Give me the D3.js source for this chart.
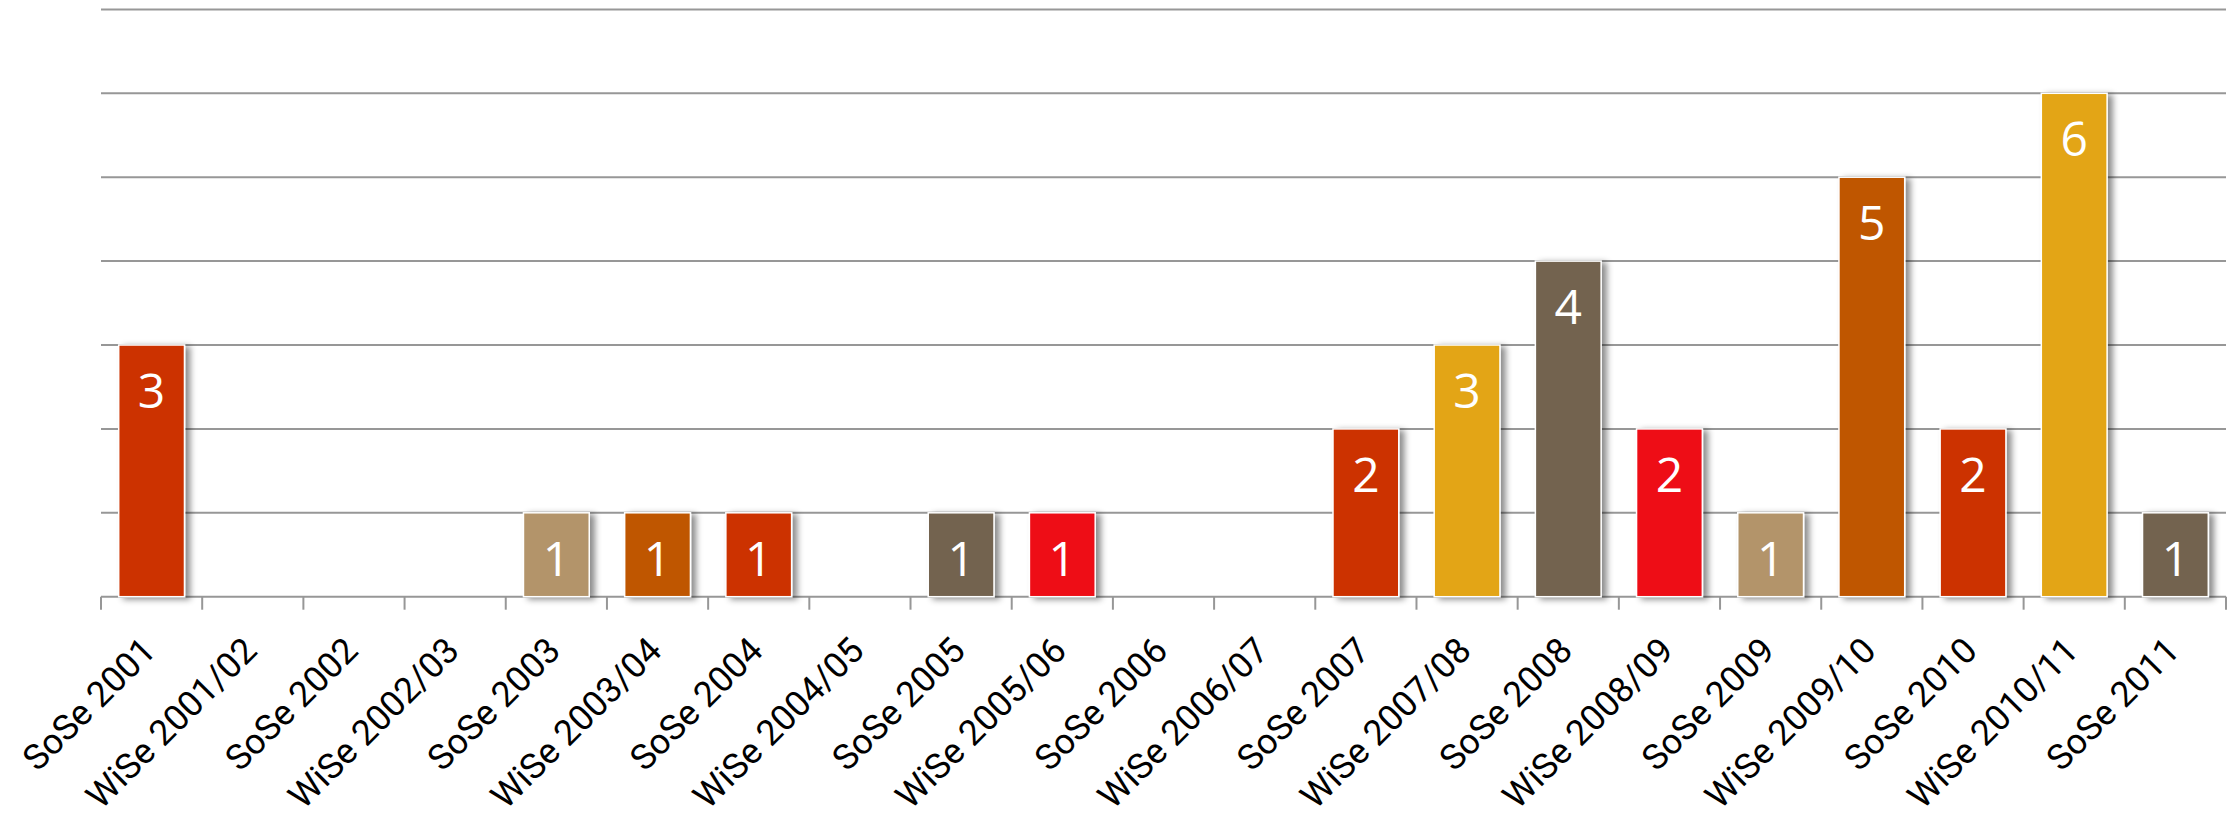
<!DOCTYPE html>
<html>
<head>
<meta charset="utf-8">
<script src="https://cdn.jsdelivr.net/npm/d3@7"></script>
<style>
  html, body { margin: 0; padding: 0; background: #ffffff; }
  svg { display: block; }
</style>
</head>
<body>
<svg id="chart" width="2237" height="819"></svg>
<script>
// Semesters and counts per semester
const semesters = [
  "SoSe 2001", "WiSe 2001/02", "SoSe 2002", "WiSe 2002/03", "SoSe 2003",
  "WiSe 2003/04", "SoSe 2004", "WiSe 2004/05", "SoSe 2005", "WiSe 2005/06",
  "SoSe 2006", "WiSe 2006/07", "SoSe 2007", "WiSe 2007/08", "SoSe 2008",
  "WiSe 2008/09", "SoSe 2009", "WiSe 2009/10", "SoSe 2010", "WiSe 2010/11",
  "SoSe 2011"
];
const counts = [3, 0, 0, 0, 1, 1, 1, 0, 1, 1, 0, 0, 2, 3, 4, 2, 1, 5, 2, 6, 1];
const yTicks = [0, 1, 2, 3, 4, 5, 6, 7];
// Colour cycle applied by category position
const palette = ["#CC3300", "#E3A512", "#736450", "#EE0A14", "#B3946A", "#BF5700"];

const svg = d3.select("#chart");
const plotLeft = 101, plotRight = 2226, plotTop = 9.4, plotBottom = 596.7;

const x = d3.scaleBand()
  .domain(semesters)
  .range([plotLeft, plotRight])
  .paddingInner(0.35)
  .paddingOuter(0.175);

const y = d3.scaleLinear().domain([0, 7]).range([plotBottom, plotTop]);

// Drop shadow for bars
const defs = svg.append("defs");
const f = defs.append("filter").attr("id", "shadow")
  .attr("x", "-20%").attr("y", "-20%").attr("width", "150%").attr("height", "140%");
f.append("feDropShadow")
  .attr("dx", 5).attr("dy", 2).attr("stdDeviation", 3)
  .attr("flood-color", "#000").attr("flood-opacity", 0.45);

// Horizontal gridlines
svg.append("g").selectAll("line")
  .data(yTicks)
  .join("line")
  .attr("x1", plotLeft).attr("x2", plotRight)
  .attr("y1", d => y(d)).attr("y2", d => y(d))
  .attr("stroke", "#979797")
  .attr("stroke-width", 2);

// Category tick marks at band boundaries
const boundaries = semesters.map(s => x(s) - x.step() * x.paddingInner() / 2);
boundaries.push(plotRight);
svg.append("g").selectAll("line")
  .data(boundaries)
  .join("line")
  .attr("x1", d => d).attr("x2", d => d)
  .attr("y1", plotBottom).attr("y2", plotBottom + 13)
  .attr("stroke", "#979797")
  .attr("stroke-width", 2);

const data = semesters.map((s, i) => ({ s, v: counts[i], c: palette[i % palette.length] }));
const nonZero = data.filter(d => d.v > 0);

// Bars
svg.append("g").selectAll("rect")
  .data(nonZero)
  .join("rect")
  .attr("x", d => x(d.s))
  .attr("y", d => y(d.v))
  .attr("width", x.bandwidth())
  .attr("height", d => y(0) - y(d.v))
  .attr("fill", d => d.c)
  .attr("stroke", "#ffffff")
  .attr("stroke-width", 1.5)
  .attr("filter", "url(#shadow)");

// Value labels inside bars
svg.append("g").selectAll("text")
  .data(nonZero)
  .join("text")
  .attr("x", d => x(d.s) + x.bandwidth() / 2)
  .attr("y", d => y(d.v) + 63)
  .attr("text-anchor", "middle")
  .attr("font-family", "'Open Sans', sans-serif")
  .attr("font-size", 48)
  .attr("fill", "#ffffff")
  .text(d => d.v);

// Rotated category labels
svg.append("g").selectAll("text")
  .data(semesters)
  .join("text")
  .attr("transform", d => `translate(${x(d) + x.bandwidth() / 2 + 6},${plotBottom + 56}) rotate(-45)`)
  .attr("text-anchor", "end")
  .attr("font-family", "Roboto, sans-serif")
  .attr("font-size", 35.5)
  .attr("fill", "#000000")
  .text(d => d);
</script>
</body>
</html>
